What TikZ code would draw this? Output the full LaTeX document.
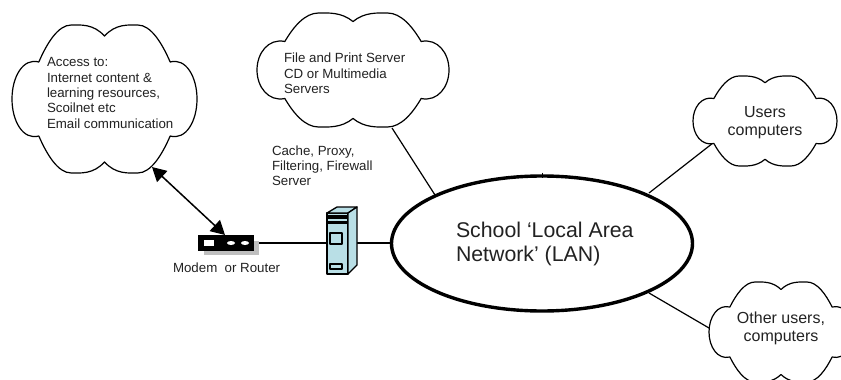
\documentclass[tikz,border=0pt]{standalone}
\usepackage{fontspec}
\setmainfont{Liberation Sans}
\usetikzlibrary{shapes.geometric,arrows.meta}
\definecolor{srv}{HTML}{B9DFE6}
\definecolor{txt}{HTML}{222222}
\newcommand{\cloudshape}[5]{%
 % name, cx, cy, half width, half height
 \begin{scope}[shift={(#2,#3)},x=#4pt,y=-#5pt]
 \draw[cloudline] (0,-.85)
  .. controls (.12,-1.02) and (.26,-1.0) .. (.36,-1)
  .. controls (.5,-1) and (.62,-.76) .. (.71,-.5)
  .. controls (.88,-.56) and (1,-.3) .. (1,0)
  .. controls (1,.3) and (.88,.56) .. (.71,.5)
  .. controls (.62,.76) and (.5,1) .. (.36,1)
  .. controls (.26,1) and (.12,1.02) .. (0,.85)
  .. controls (-.12,1.02) and (-.26,1) .. (-.36,1)
  .. controls (-.5,1) and (-.62,.76) .. (-.71,.5)
  .. controls (-.88,.56) and (-1,.3) .. (-1,0)
  .. controls (-1,-.3) and (-.88,-.56) .. (-.71,-.5)
  .. controls (-.62,-.76) and (-.5,-1) .. (-.36,-1)
  .. controls (-.26,-1) and (-.12,-1.02) .. (0,-.85) -- cycle;
 \coordinate (#1) at (0,0);
 \end{scope}}
\tikzset{
 cloudline/.style={line width=1.2pt,fill=white,line join=round},
 conn/.style={line width=1.2pt},
 label/.style={inner sep=0pt,outer sep=0pt,text=txt,font=\fontsize{13.3}{15.4}\selectfont,align=left},
 mid/.style={inner sep=0pt,outer sep=0pt,text=txt,font=\fontsize{16}{18}\selectfont,align=center},
 big/.style={inner sep=0pt,outer sep=0pt,text=txt,font=\fontsize{21.3}{24.5}\selectfont,align=left},
 lan/.style={ellipse,draw,line width=3.4pt,minimum width=301pt,minimum height=135pt,inner sep=0pt,fill=white},
 dbl/.style={line width=1.5pt,{Triangle[length=14pt,width=15pt]}-{Triangle[length=14pt,width=15pt]}}
}
\begin{document}
\begin{tikzpicture}[x=1pt,y=-1pt]
\useasboundingbox (0,0) rectangle (841,380);
\fill[white] (0,0) rectangle (841,380);
\coordinate (c1) at (392,128);
\coordinate (e1) at (435,195);
\coordinate (c2) at (713,143);
\coordinate (e2) at (649,193);
\coordinate (c3) at (709,328);
\coordinate (e3) at (649,293);
\coordinate (arrA) at (152,167);
\coordinate (arrB) at (225,235);
\coordinate (modemE) at (254,243);
\coordinate (srvW) at (327,243);
\coordinate (srvE) at (357,243);
\coordinate (lanW) at (390,243);
\coordinate (tickA) at (542,172.5);
\coordinate (tickB) at (542,178);
\draw[conn] (c1) -- (e1);
\draw[conn] (c2) -- (e2);
\draw[conn] (c3) -- (e3);
\draw[conn] (modemE) -- (srvW);
\draw[conn] (srvE) -- (lanW);
\cloudshape{cA}{104.5}{99}{92.5}{74}
\cloudshape{cB}{353}{70}{96}{57}
\cloudshape{cC}{765}{121}{72}{45}
\cloudshape{cD}{781}{332}{72}{50}
\node[lan] (lan) at (542,243.5) {};
\draw[line width=.8pt] (tickA) -- (tickB);
\node[big,anchor=north west] (lant) at (456,222) {School ‘Local Area\\Network’ (LAN)};
\node[label,anchor=north west] (tA) at (47,57.5) {Access to:\\Internet content \&\\learning resources,\\Scoilnet etc\\Email communication};
\node[label,anchor=north west] (tB) at (284,53) {File and Print Server\\CD or Multimedia\\Servers};
\node[mid,anchor=center] (tC) at (765,122.5) {Users\\computers};
\node[mid,anchor=center] (tD) at (781,328.5) {Other users,\\computers};
\node[label,anchor=north west] (tS) at (272,145.5) {Cache, Proxy,\\Filtering, Firewall\\Server};
\node[label,anchor=north west] (tM) at (173,263) {Modem\ \ or Router};
% modem
\fill[black!25] (204,241) rectangle (259,255);
\fill[black] (198,235) rectangle (254,251);
\fill[white] (204,240) rectangle (214,246);
\fill[white] (231,243) ellipse (4pt and 2pt);
\fill[white] (245,243) ellipse (4pt and 2pt);
% server
\begin{scope}[line width=1.3pt,line join=round]
\draw[fill=srv] (327,213) -- (348,213) -- (348,274) -- (327,274) -- cycle;
\draw[fill=srv] (327,213) -- (337,207) -- (357,207) -- (348,213) -- cycle;
\draw[fill=srv] (348,213) -- (357,207) -- (357,265) -- (348,274) -- cycle;
\fill[black] (327,215) rectangle (348,219);
\fill[black] (327,221) rectangle (348,224);
\draw (330,233) rectangle (342,244);
\draw (330,264) rectangle (342,269);
\end{scope}
\draw[dbl] (arrA) -- (arrB);
\end{tikzpicture}
\end{document}
